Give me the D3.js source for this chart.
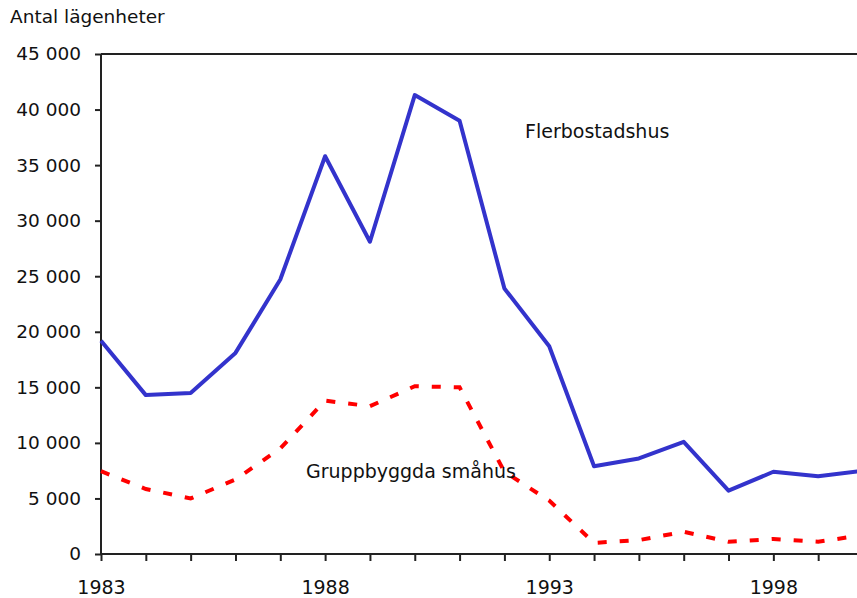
<!DOCTYPE html>
<html>
<head>
<meta charset="utf-8">
<script src="https://cdn.jsdelivr.net/npm/d3@7"></script>
<style>
  body { margin: 0; background: #fff; }
  svg { display: block; font-family: "DejaVu Sans", sans-serif; }
  text { fill: #111; }
</style>
</head>
<body>
<svg id="chart"></svg>
<script>
const years = [1983, 1984, 1985, 1986, 1987, 1988, 1989, 1990, 1991, 1992,
               1993, 1994, 1995, 1996, 1997, 1998, 1999, 2000];
const flerbostadshus = [19200, 14300, 14500, 18100, 24700, 35800, 28100, 41300, 39000, 23900,
                        18700, 7900, 8600, 10100, 5700, 7400, 7000, 7500];
const gruppbyggda = [7450, 5850, 5000, 6700, 9500, 13800, 13300, 15100, 15000, 7400,
                     4800, 1000, 1250, 2000, 1100, 1350, 1100, 1700];
const yTicks = [0, 5000, 10000, 15000, 20000, 25000, 30000, 35000, 40000, 45000];
const xLabels = [1983, 1988, 1993, 1998];

const width = 857;
const height = 598;
const margin = { top: 54, right: -6, bottom: 44, left: 101 };

const svg = d3.select("#chart")
              .attr("width", width)
              .attr("height", height);

// Scales
const xScale = d3.scaleLinear()
                 .domain([1983, 2000])
                 .range([margin.left, width - margin.right]);

const yScale = d3.scaleLinear()
                 .domain([0, 45000])
                 .range([height - margin.bottom, margin.top]);

const fmt = d => d3.format(",")(d).replace(/,/g, " ");

// Top border
svg.append("line")
   .attr("x1", margin.left).attr("x2", width)
   .attr("y1", yScale(45000)).attr("y2", yScale(45000))
   .attr("stroke", "#222").attr("stroke-width", 2);

// Y axis
const yAxis = svg.append("g")
   .attr("transform", `translate(${margin.left}, 0)`)
   .call(d3.axisLeft(yScale).tickValues(yTicks).tickSize(6).tickPadding(14).tickFormat(fmt));

// X axis
const xAxis = svg.append("g")
   .attr("transform", `translate(0, ${height - margin.bottom})`)
   .call(d3.axisBottom(xScale).tickValues(years).tickSize(7).tickPadding(20)
           .tickFormat(d => xLabels.includes(d) ? d : ""));

[yAxis, xAxis].forEach(g => {
  g.select(".domain").attr("stroke", "#222").attr("stroke-width", 2);
  g.selectAll(".tick line").attr("stroke", "#222").attr("stroke-width", 2);
  g.selectAll(".tick text").attr("fill", "#111")
   .style("font-family", "DejaVu Sans, sans-serif").style("font-size", "18.5px");
});
xAxis.selectAll(".tick text").style("font-size", "19px");
xAxis.select(".domain").attr("d", `M${margin.left},0H${width}`);
yAxis.select(".domain").attr("d", `M0,${yScale(0)}V${yScale(45000)}`);

// Lines
const line = d3.line()
               .x((d, i) => xScale(years[i]))
               .y(d => yScale(d));

svg.append("path")
   .datum(gruppbyggda)
   .attr("fill", "none")
   .attr("stroke", "#ff0000")
   .attr("stroke-width", 4)
   .attr("stroke-dasharray", "9,13")
   .attr("d", line);

svg.append("path")
   .datum(flerbostadshus)
   .attr("fill", "none")
   .attr("stroke", "#3333cc")
   .attr("stroke-width", 4)
   .attr("stroke-linejoin", "round")
   .attr("d", line);

// Labels
svg.append("text")
   .attr("x", 10).attr("y", 23)
   .style("font-size", "18.5px")
   .text("Antal lägenheter");

svg.append("text")
   .attr("x", 525).attr("y", 138)
   .style("font-size", "19px")
   .text("Flerbostadshus");

svg.append("text")
   .attr("x", 306).attr("y", 478)
   .style("font-size", "19px")
   .text("Gruppbyggda småhus");
</script>
</body>
</html>
